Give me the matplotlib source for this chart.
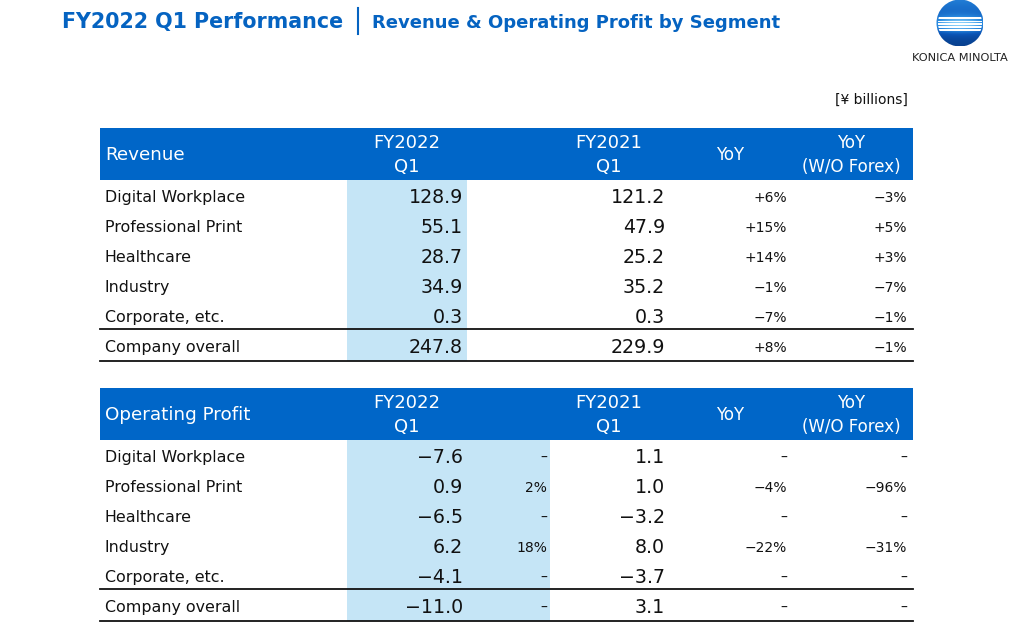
import numpy as np
import matplotlib.pyplot as plt
from matplotlib.patches import Rectangle, Circle

segments = ['Digital Workplace', 'Professional Print', 'Healthcare',
            'Industry', 'Corporate, etc.', 'Company overall']

rev_fy22 = [128.9, 55.1, 28.7, 34.9, 0.3, 247.8]
rev_fy21 = [121.2, 47.9, 25.2, 35.2, 0.3, 229.9]
rev_yoy = [6, 15, 14, -1, -7, 8]
rev_yoy_fx = [-3, 5, 3, -7, -1, -1]

op_fy22 = [-7.6, 0.9, -6.5, 6.2, -4.1, -11.0]
op_margin = [None, 2, None, 18, None, None]
op_fy21 = [1.1, 1.0, -3.2, 8.0, -3.7, 3.1]
op_yoy = [None, -4, None, -22, None, None]
op_yoy_fx = [None, -96, None, -31, None, None]

BLUE = '#0563C1'
HEAD = '#0066C8'
LIGHT = '#C5E5F6'
TXT = '#111111'
MINUS = '\u2212'


def fmt_val(v):
    return f'{v:.1f}'.replace('-', MINUS)


def fmt_pct(v, signed=True):
    if v is None:
        return '\u2013'
    if v > 0 and signed:
        return f'+{v}%'
    return f'{v}%'.replace('-', MINUS)


fig = plt.figure(figsize=(10.18, 6.33), dpi=100)
ax = fig.add_axes([0, 0, 1, 1])
ax.set_xlim(0, 1018)
ax.set_ylim(633, 0)
ax.axis('off')

# title
ax.text(62, 22, 'FY2022 Q1 Performance', color=BLUE, fontsize=14.9,
        fontweight='bold', va='center', ha='left')
ax.plot([358, 358], [8, 34], color=BLUE, lw=1.5)
ax.text(372, 23, 'Revenue & Operating Profit by Segment', color=BLUE,
        fontsize=13, fontweight='bold', va='center', ha='left')

# logo: blue sphere with white stripes
cx, cy, r = 960, 23, 23.5
yy, xx = np.mgrid[-1:1:200j, -1:1:200j]
glow = np.exp(-((yy - 0.1) / 0.35) ** 2) * (1 - 0.5 * xx ** 2)
shade = 0.35 + 0.45 * (yy + 1) / 2 - 0.55 * glow
grad = np.clip(shade, 0, 1)
cmap = plt.matplotlib.colors.LinearSegmentedColormap.from_list(
    'logo', ['#8FD3FA', '#2A8BE0', '#0B56B8', '#08408F'])
img = ax.imshow(grad, cmap=cmap, extent=[cx - r, cx + r, cy + r, cy - r],
                zorder=3, interpolation='bilinear')
img.set_clip_path(Circle((cx, cy), r, transform=ax.transData))
for dy, h in [(-5, 1.2), (-1.6, 1.8), (1.3, 2.0), (4.3, 1.8), (7, 1.2)]:
    rect = Rectangle((cx - r, cy + dy - h / 2), 2 * r, h, color='white',
                     zorder=4, lw=0)
    ax.add_patch(rect)
    rect.set_clip_path(Circle((cx, cy), r - 1.5, transform=ax.transData))
ax.text(960, 58, 'KONICA MINOLTA', fontsize=8.2, ha='center', va='center',
        color='#222222')

ax.text(908, 100, '[\u00a5 billions]', fontsize=10, ha='right', va='center',
        color=TXT)

X0, X1 = 100, 913
COLS = {'fy22': 463, 'margin': 547, 'fy21': 665, 'yoy': 787, 'fx': 907}


def draw_table(top, title, fy22, fy21, yoy, yoy_fx, margin=None):
    band_h = 52
    ax.add_patch(Rectangle((X0, top), X1 - X0, band_h, color=HEAD, lw=0))
    ax.text(105, top + 27, title, color='white', fontsize=13.2, va='center')
    for x, l1, l2 in [(407, 'FY2022', 'Q1'), (609, 'FY2021', 'Q1'),
                      (851, 'YoY', '(W/O Forex)')]:
        fs = 12 if l1 == 'YoY' else 13
        ax.text(x, top + 15, l1, color='white', fontsize=fs, ha='center', va='center')
        ax.text(x, top + 39, l2, color='white', fontsize=fs, ha='center', va='center')
    ax.text(730, top + 27, 'YoY', color='white', fontsize=12, ha='center', va='center')

    body = top + band_h
    right = 550 if margin is not None else 467
    n = len(segments)
    ax.add_patch(Rectangle((347, body), right - 347, 30 * n + 1, color=LIGHT, lw=0))
    ax.plot([X0, X1], [body + 30 * (n - 1) - 1, body + 30 * (n - 1) - 1],
            color=TXT, lw=1.3)
    ax.plot([X0, X1], [body + 30 * n + 1, body + 30 * n + 1], color=TXT, lw=1.3)

    for i, seg in enumerate(segments):
        y = body + 17.5 + 30 * i
        ax.text(105, y, seg, fontsize=11.4, va='center', color=TXT)
        ax.text(COLS['fy22'], y, fmt_val(fy22[i]), fontsize=13.7, ha='right',
                va='center', color=TXT)
        ax.text(COLS['fy21'], y, fmt_val(fy21[i]), fontsize=13.7, ha='right',
                va='center', color=TXT)
        ax.text(COLS['yoy'], y, fmt_pct(yoy[i]), fontsize=10, ha='right',
                va='center', color=TXT)
        ax.text(COLS['fx'], y, fmt_pct(yoy_fx[i]), fontsize=10, ha='right',
                va='center', color=TXT)
        if margin is not None:
            ax.text(COLS['margin'], y, fmt_pct(margin[i], signed=False),
                    fontsize=10, ha='right', va='center', color=TXT)


draw_table(128, 'Revenue', rev_fy22, rev_fy21, rev_yoy, rev_yoy_fx)
draw_table(388, 'Operating Profit', op_fy22, op_fy21, op_yoy, op_yoy_fx,
           margin=op_margin)

fig.savefig('out.png', dpi=100)
